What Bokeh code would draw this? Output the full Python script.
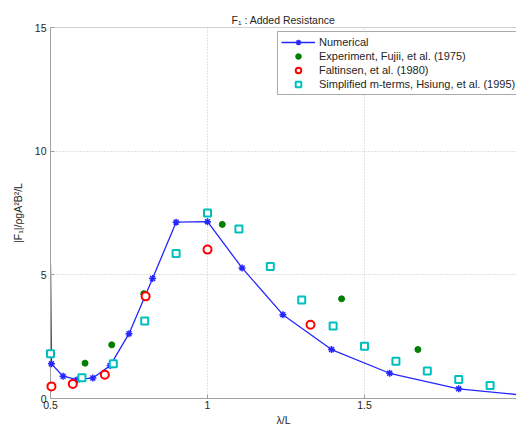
from bokeh.plotting import figure
from bokeh.models import Range1d, FixedTicker, Span, Legend, LegendItem
from bokeh.embed import file_html
from bokeh.resources import INLINE

# Added resistance F1 versus wavelength / ship length
lam_num = [0.5, 0.503, 0.54, 0.585, 0.635, 0.69, 0.75, 0.825, 0.9, 1.0, 1.11, 1.24, 1.395, 1.58, 1.8, 2.0]
f_num = [5.42, 1.40, 0.90, 0.76, 0.83, 1.33, 2.62, 4.85, 7.13, 7.15, 5.28, 3.39, 1.98, 1.02, 0.39, 0.14]

lam_fujii = [0.61, 0.695, 0.797, 1.047, 1.427, 1.67]
f_fujii = [1.43, 2.17, 4.24, 7.04, 4.03, 1.98]

lam_falt = [0.503, 0.571, 0.673, 0.803, 1.0, 1.328]
f_falt = [0.49, 0.59, 0.96, 4.13, 6.02, 2.98]

lam_hsiung = [0.5, 0.6, 0.7, 0.8, 0.9, 1.0, 1.1, 1.2, 1.3, 1.4, 1.5, 1.6, 1.7, 1.8, 1.9]
f_hsiung = [1.81, 0.84, 1.40, 3.13, 5.86, 7.50, 6.85, 5.34, 3.98, 2.93, 2.11, 1.51, 1.11, 0.77, 0.53]

x_ticks = [0.5, 1, 1.5]
x_tick_labels = {0.5: "0.5", 1: "1", 1.5: "1.5"}
y_ticks = [0, 5, 10, 15]

FONT = "Liberation Sans"
AXIS_GREY = "#a0a0a0"
TEXT = "#262626"

p = figure(width=516, height=430, x_range=Range1d(0.5, 1.984), y_range=Range1d(0, 15),
           output_backend="svg", toolbar_location=None,
           min_border_left=50, min_border_right=0, min_border_top=27, min_border_bottom=32,
           title="F\u2081 : Added Resistance")
p.background_fill_color = "white"
p.border_fill_color = "white"
p.outline_line_color = None

p.title.align = "center"
p.title.text_font = FONT
p.title.text_font_size = "10.5px"
p.title.text_font_style = "normal"
p.title.text_color = TEXT
p.title.offset = 2
p.title.standoff = 4

# axes
for ax in (p.xaxis[0], p.yaxis[0]):
    ax.axis_line_color = AXIS_GREY
    ax.major_tick_line_color = AXIS_GREY
    ax.major_tick_in = 4
    ax.major_tick_out = 0
    ax.minor_tick_line_color = None
    ax.major_label_text_font = FONT
    ax.major_label_text_font_size = "10.5px"
    ax.major_label_text_color = TEXT
    ax.axis_label_text_font = FONT
    ax.axis_label_text_font_size = "10.5px"
    ax.axis_label_text_font_style = "normal"
    ax.axis_label_text_color = TEXT

p.xaxis.ticker = FixedTicker(ticks=x_ticks)
p.xaxis.major_label_overrides = x_tick_labels
p.xaxis.major_label_standoff = 2
p.xaxis.axis_label = "\u03bb/L"
p.xaxis.axis_label_standoff = 2

p.yaxis.ticker = FixedTicker(ticks=y_ticks)
p.yaxis.major_label_standoff = 4
p.yaxis.axis_label = "|F\u2081|/\u03c1gA\u00b2B\u00b2/L"
p.yaxis.axis_label_standoff = 8

# dotted grid
p.xgrid.ticker = FixedTicker(ticks=x_ticks)
p.ygrid.ticker = FixedTicker(ticks=y_ticks)
for g in (p.xgrid[0], p.ygrid[0]):
    g.grid_line_color = "#c4c4c4"
    g.grid_line_dash = "1 2"
    g.grid_line_width = 1

# top box edge
p.add_layout(Span(location=15, dimension="width", line_color=AXIS_GREY, line_width=1))

# numerical curve
num_line = p.line(lam_num, f_num, line_color="#2626ff", line_width=1.3)
num_pts = p.scatter(lam_num[1:], f_num[1:], marker="asterisk", size=7,
                    line_color="#2626ff", line_width=1.5, level="overlay")

fujii = p.scatter(lam_fujii, f_fujii, marker="circle", size=6,
                  fill_color="#007f00", line_color="#007f00", level="overlay")
falt = p.scatter(lam_falt, f_falt, marker="circle", size=8, fill_color="white",
                 line_color="#ff0000", line_width=2, level="overlay")
hsiung = p.scatter(lam_hsiung, f_hsiung, marker="square", size=7, fill_color="white",
                   line_color="#00bfbf", line_width=2, level="overlay")

legend = Legend(items=[
    LegendItem(label="Numerical", renderers=[num_line, num_pts]),
    LegendItem(label="Experiment, Fujii, et al. (1975)", renderers=[fujii]),
    LegendItem(label="Faltinsen, et al. (1980)", renderers=[falt]),
    LegendItem(label="Simplified m-terms, Hsiung, et al. (1995)", renderers=[hsiung]),
], location=(227, 303))
legend.label_text_font = FONT
legend.label_text_font_size = "11px"
legend.label_text_color = TEXT
legend.label_height = 14
legend.glyph_height = 14
legend.glyph_width = 34
legend.label_standoff = 4
legend.spacing = 0
legend.padding = 3
legend.margin = 0
legend.border_line_color = "#555555"
legend.border_line_width = 1
legend.background_fill_color = "white"
legend.background_fill_alpha = 1
p.add_layout(legend)

open("out.html", "w").write(file_html(p, INLINE))
